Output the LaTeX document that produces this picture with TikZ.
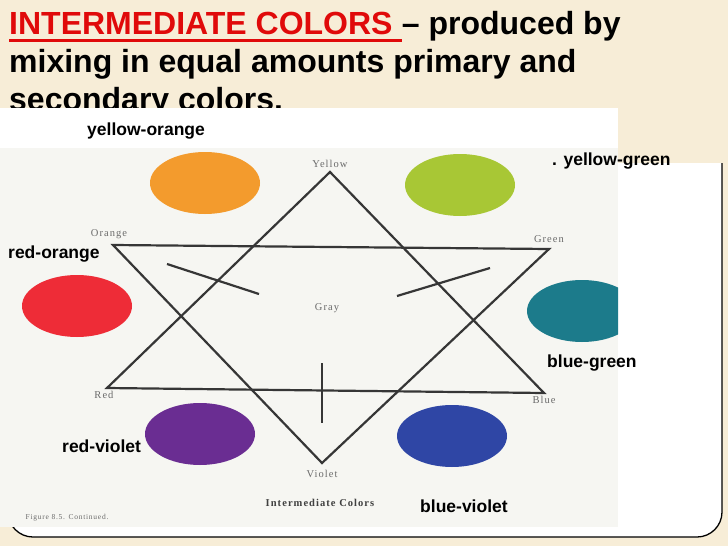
\documentclass[tikz,border=0pt]{standalone}
\usepackage{fontspec}
\setmainfont{Liberation Sans}
\newfontfamily\scanfont[LetterSpace=10]{Liberation Serif}
\usepackage{xcolor}
\usetikzlibrary{positioning,shapes.geometric}
\definecolor{parchment}{HTML}{F7EDD7}
\definecolor{scanwhite}{HTML}{F6F6F2}
\definecolor{titlered}{HTML}{E00A0A}
\definecolor{linegray}{HTML}{363636}
\definecolor{scangray}{HTML}{6A6A6A}
\definecolor{yorange}{HTML}{F39B2D}
\definecolor{ygreen}{HTML}{A8C735}
\definecolor{rorange}{HTML}{EE2C37}
\definecolor{bgreen}{HTML}{1C7B8B}
\definecolor{rviolet}{HTML}{6A2D92}
\definecolor{bviolet}{HTML}{2F46A5}
\tikzset{%
	blob/.style     = {ellipse, inner sep=0pt, minimum width=110pt, minimum height=62pt},
	starline/.style = {draw=linegray, line width=2.2pt},
	scanlbl/.style  = {font=\scanfont\fontsize{10.5}{12}\selectfont, text=scangray, inner sep=0pt},
	mixlbl/.style   = {font=\bfseries\fontsize{17.5}{20}\selectfont, anchor=base west, inner sep=0pt},
	titleln/.style  = {font=\bfseries\fontsize{32}{38}\selectfont, anchor=base west, inner sep=0pt},
}
\newcommand{\ttl}[1]{\textcolor{titlered}{#1}}

\begin{document}
\begin{tikzpicture}[x=1pt,y=-1pt]
	\useasboundingbox (0,0) rectangle (728,546);
	\fill[parchment] (0,0) rectangle (728,546);
	
	% heading
	\node[titleln] (ttlred) at (9,34) {\ttl{INTERMEDIATE COLORS\ }};
	\node[titleln] (ttlend) at (ttlred.base east) {– produced by};
	\draw[titlered, line width=3pt] ([yshift=-6pt]ttlred.base west) -- ([yshift=-6pt]ttlred.base east);
	\node[titleln] (ttl2) at (9,72) {mixing in equal amounts primary and};
	\node[titleln] (ttl3) at (9,110) {secondary colors.};
	
	% paper, frame and scan
	\fill[white] (0,108) rectangle (618,163);
	\fill[white] (8,163) rectangle (722,512);
	\fill[white, rounded corners=25pt] (8,163) rectangle (722,537);
	\draw[line width=1.3pt, rounded corners=25pt] (722,163) -- (722,537) -- (8,537) -- (8,470);
	\fill[scanwhite] (0,148) rectangle (618,527);
	
	\begin{scope}
		\clip (0,148) rectangle (618,527);
		\node[blob, fill=yorange] (yo) at (205,183) {};
		\node[blob, fill=ygreen]  (yg) at (460,185) {};
		\node[blob, fill=rorange] (ro) at (77,306) {};
		\node[blob, fill=bgreen]  (bg) at (582,311) {};
		\node[blob, fill=rviolet] (rv) at (200,434) {};
		\node[blob, fill=bviolet] (bv) at (452,436) {};
	\end{scope}
	
	% star
	\coordinate (Y) at (330,172);
	\coordinate (O) at (113,245);
	\coordinate (G) at (549,249);
	\coordinate (R) at (107,388);
	\coordinate (B) at (544,393);
	\coordinate (V) at (322,463);
	\draw[starline] (Y) -- (R) -- (B) -- cycle;
	\draw[starline] (O) -- (G) -- (V) -- cycle;
	\draw[starline] (167,264) -- (259,294);
	\draw[starline] (397,296) -- (490,268);
	\draw[starline] (322,363) -- (322,423);
	
	\node[scanlbl, above=4pt of Y] (lblY) {Yellow};
	\node[scanlbl, above=6pt of O, xshift=-4pt] (lblO) {Orange};
	\node[scanlbl, above=6pt of G] (lblG) {Green};
	\node[scanlbl, below=3pt of R, xshift=-3pt] (lblR) {Red};
	\node[scanlbl, below=3pt of B] (lblB) {Blue};
	\node[scanlbl, below=7pt of V] (lblV) {Violet};
	\node[scanlbl] (lblgray) at (327,308) {Gray};
	\node[scanlbl, font=\scanfont\bfseries\fontsize{10.5}{12}\selectfont, text=black!75] (cap) at (320,503) {Intermediate Colors};
	\node[scanlbl, font=\scanfont\fontsize{7.5}{9}\selectfont] (fig) at (67,518) {Figure 8.5. Continued.};
	
	% mixed colours
	\node[mixlbl] (lyo) at (87,135)  {yellow-orange};
	\node[mixlbl] (lyg) at (552,165) {. yellow-green};
	\node[mixlbl] (lro) at (8,258)   {red-orange};
	\node[mixlbl] (lbg) at (547,367) {blue-green};
	\node[mixlbl] (lrv) at (62,452)  {red-violet};
	\node[mixlbl] (lbv) at (420,512) {blue-violet};
\end{tikzpicture}
\end{document}
